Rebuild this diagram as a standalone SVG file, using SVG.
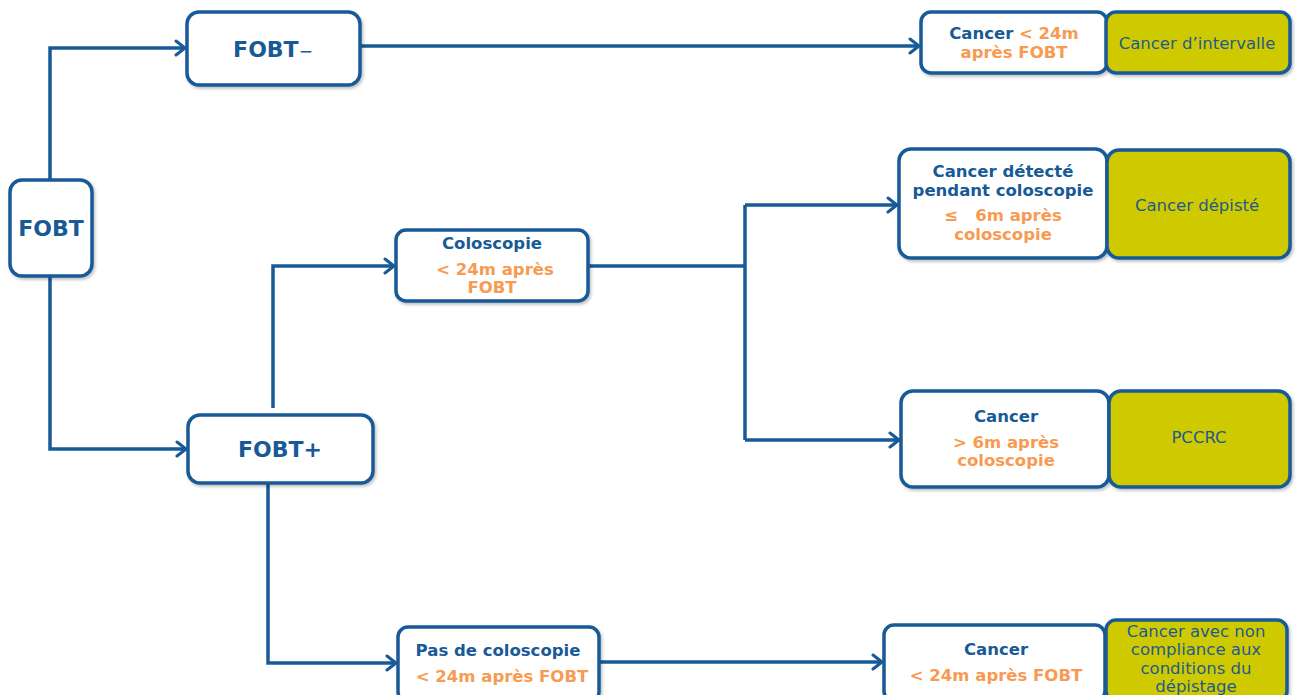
<svg xmlns="http://www.w3.org/2000/svg" width="1299" height="695" viewBox="0 0 1299 695">
<defs>
<marker id="arr" markerWidth="14" markerHeight="18" refX="12" refY="9" orient="auto" markerUnits="userSpaceOnUse">
<path d="M3,2 L12,9 L3,16" fill="none" stroke="#185a98" stroke-width="3" stroke-linecap="round" stroke-linejoin="round"/>
</marker>
<filter id="sh" x="-10%" y="-10%" width="125%" height="130%">
<feDropShadow dx="1.5" dy="2" stdDeviation="1.5" flood-color="#000" flood-opacity="0.25"/>
</filter>
</defs>
<style>
.box{fill:#fff;stroke:#185a98;stroke-width:3.5;filter:url(#sh)}
.yel{fill:#cfca00;stroke:#185a98;stroke-width:3.5;filter:url(#sh)}
.b{font-family:"DejaVu Sans",Verdana,sans-serif;font-weight:bold;font-size:16.5px;fill:#175a96;text-anchor:middle}
.o{fill:#f79a52}
.big{font-size:22px}
.y{font-family:"DejaVu Sans",Verdana,sans-serif;font-size:16.5px;fill:#1f5a8e;text-anchor:middle}
.c{fill:none;stroke:#185a98;stroke-width:3.5}
</style>
<rect width="1299" height="695" fill="#fff"/>
<g id="connectors">
<path class="c" d="M50,180 V48 H185" marker-end="url(#arr)"/>
<path class="c" d="M50,276 V449 H186" marker-end="url(#arr)"/>
<path class="c" d="M360,46 H919" marker-end="url(#arr)"/>
<path class="c" d="M273,408 V266 H394" marker-end="url(#arr)"/>
<path class="c" d="M588,266 H745"/>
<path class="c" d="M745,205 V440"/>
<path class="c" d="M745,205 H897" marker-end="url(#arr)"/>
<path class="c" d="M745,440 H899" marker-end="url(#arr)"/>
<path class="c" d="M268,483 V663 H396" marker-end="url(#arr)"/>
<path class="c" d="M599,662 H882" marker-end="url(#arr)"/>
</g>
<g id="fobt">
<rect class="box" x="10" y="180" width="82" height="96" rx="12"/>
<text class="b big" x="51" y="236">FOBT</text>
</g>
<g id="fobt-neg">
<rect class="box" x="187" y="12" width="173" height="73" rx="12"/>
<text class="b big" x="273" y="57">FOBT<tspan font-weight="normal" font-size="17">−</tspan></text>
</g>
<g id="fobt-pos">
<rect class="box" x="188" y="415" width="185" height="68" rx="12"/>
<text class="b big" x="280" y="457">FOBT+</text>
</g>
<g id="coloscopie">
<rect class="box" x="396" y="230" width="192" height="71" rx="10"/>
<text class="b" x="492" y="249">Coloscopie</text>
<text class="b o" x="495" y="275">&lt; 24m après</text>
<text class="b o" x="492" y="293">FOBT</text>
</g>
<g id="pas-coloscopie">
<rect class="box" x="398" y="627" width="201" height="75" rx="10"/>
<text class="b" x="498" y="656">Pas de coloscopie</text>
<text class="b o" x="502" y="682">&lt; 24m après FOBT</text>
</g>
<g id="cancer-24m">
<rect class="box" x="921" y="12" width="186" height="61" rx="10"/>
<text class="b" x="1014" y="39">Cancer <tspan class="o">&lt; 24m</tspan></text>
<text class="b o" x="1014" y="58">après FOBT</text>
</g>
<g id="cancer-intervalle">
<rect class="yel" x="1106" y="12" width="184" height="61" rx="10"/>
<text class="y" x="1197" y="49">Cancer d’intervalle</text>
</g>
<g id="cancer-detecte">
<rect class="box" x="899" y="149" width="208" height="109" rx="12"/>
<text class="b" x="1003" y="177">Cancer détecté</text>
<text class="b" x="1003" y="196">pendant coloscopie</text>
<text class="b o" x="1003" y="221">≤&#160;&#160;&#160;6m après</text>
<text class="b o" x="1003" y="240">coloscopie</text>
</g>
<g id="cancer-depiste">
<rect class="yel" x="1107" y="150" width="183" height="108" rx="12"/>
<text class="y" x="1197" y="211">Cancer dépisté</text>
</g>
<g id="cancer-6m">
<rect class="box" x="901" y="391" width="208" height="96" rx="12"/>
<text class="b" x="1006" y="422">Cancer</text>
<text class="b o" x="1006" y="448">&gt; 6m après</text>
<text class="b o" x="1006" y="466">coloscopie</text>
</g>
<g id="pccrc">
<rect class="yel" x="1109" y="391" width="181" height="96" rx="12"/>
<text class="y" x="1199" y="443">PCCRC</text>
</g>
<g id="cancer-bottom">
<rect class="box" x="884" y="625" width="221" height="76" rx="10"/>
<text class="b" x="996" y="655">Cancer</text>
<text class="b o" x="996" y="681">&lt; 24m après FOBT</text>
</g>
<g id="cancer-non-compliance">
<rect class="yel" x="1106" y="620" width="181" height="81" rx="10"/>
<text class="y" x="1196" y="637">Cancer avec non</text>
<text class="y" x="1196" y="655">compliance aux</text>
<text class="y" x="1196" y="674">conditions du</text>
<text class="y" x="1196" y="692">dépistage</text>
</g>
</svg>
